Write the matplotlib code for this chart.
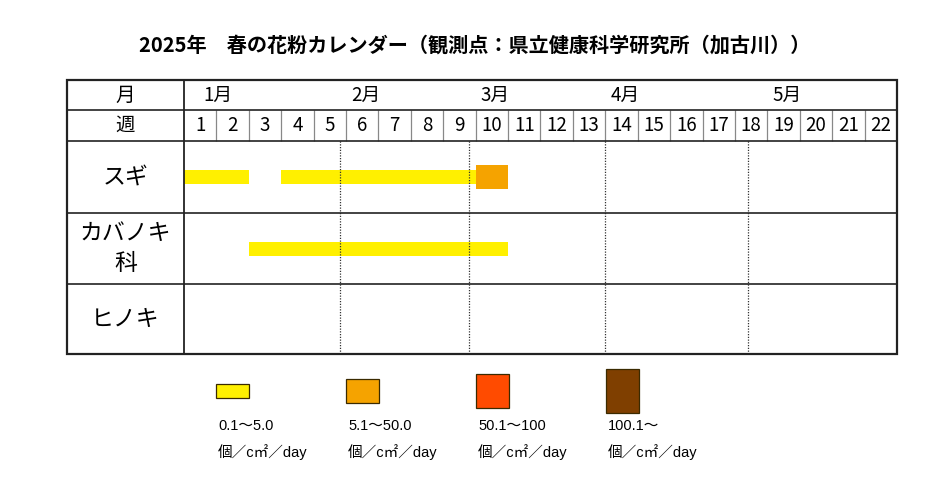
import matplotlib
matplotlib.use('Agg')
import matplotlib.pyplot as plt
from matplotlib.patches import Rectangle

plt.rcParams['font.family'] = ['Noto Sans CJK JP', 'DejaVu Sans']

TITLE = '2025年　春の花粉カレンダー（観測点：県立健康科学研究所（加古川））'

# header data
months = ['1月', '2月', '3月', '4月', '5月']
month_label_week = [1.05, 5.6, 9.6, 13.6, 18.6]   # where the month names sit (in weeks)
month_start_week = [4.8, 8.8, 13.0, 17.4]          # 2/1, 3/1, 4/1, 5/1
weeks = list(range(1, 23))

# pollen periods
species = ['スギ', 'カバノキ\n科', 'ヒノキ']
bar_species = [0, 0, 0, 1]
bar_first = [1, 4, 10, 3]
bar_last = [2, 9, 10, 10]
bar_level = [0, 0, 1, 0]

level_labels = ['0.1～5.0', '5.1～50.0', '50.1～100', '100.1～']
unit = '個／c㎡／day'

# styles
level_colors = ['#FFF000', '#F5A300', '#FF4B00', '#7F3F00']
level_heights = [14, 24, 34, 44]
row_bounds = [0, 30, 61, 133, 204, 274]   # px inside the table
label_col = -3.61                           # label column width in weeks

fig = plt.figure(figsize=(9.3, 4.97), dpi=100)
W, H = 930, 497

fig.text(475 / W, 1 - 45 / H, TITLE, ha='center', va='center',
         fontsize=14.5, fontweight='bold')

ax = fig.add_axes([67 / W, 1 - 354 / H, 830 / W, 274 / H])
ax.set_xlim(label_col, len(weeks))
ax.set_ylim(row_bounds[-1], row_bounds[0])
ax.axis('off')

# bars
for s, a, b, lv in zip(bar_species, bar_first, bar_last, bar_level):
    yc = (row_bounds[2 + s] + row_bounds[3 + s]) / 2
    ax.barh(yc, b - a + 1, left=a - 1, height=level_heights[lv],
            color=level_colors[lv], edgecolor='none', zorder=2)

# grid
ax.add_patch(Rectangle((label_col, 0), len(weeks) - label_col, row_bounds[-1],
                       fill=False, lw=1.6, ec='#222222', clip_on=False, zorder=5))
ax.vlines(0, 0, row_bounds[-1], color='#222222', lw=1.3, zorder=5)
ax.hlines(row_bounds[1:-1], label_col, len(weeks), color='#222222', lw=1.2, zorder=5)
ax.vlines(weeks[:-1], row_bounds[1], row_bounds[2], color='#888888', lw=0.9, zorder=4)
ax.vlines(month_start_week, row_bounds[2], row_bounds[-1], color='#333333',
          lw=0.9, linestyles=(0, (1, 1.2)), zorder=4)

# header text
xc = label_col / 2
yh1 = (row_bounds[0] + row_bounds[1]) / 2
yh2 = (row_bounds[1] + row_bounds[2]) / 2
ax.text(xc, yh1, '月', ha='center', va='center', fontsize=14)
ax.text(xc, yh2, '週', ha='center', va='center', fontsize=14)
for m, x in zip(months, month_label_week):
    ax.text(x, yh1, m, ha='center', va='center', fontsize=13.5)
for w in weeks:
    ax.text(w - 0.5, yh2, str(w), ha='center', va='center', fontsize=13.5)
for i, sp in enumerate(species):
    yc = (row_bounds[2 + i] + row_bounds[3 + i]) / 2
    ax.text(xc, yc, sp, ha='center', va='center', fontsize=16.5, linespacing=1.35)

# legend
lg = fig.add_axes([0, 0, 1, 1])
lg.set_xlim(0, W)
lg.set_ylim(H, 0)
lg.axis('off')
leg_font = ['Liberation Sans', 'Noto Sans CJK JP']
for i, (lab, c, h) in enumerate(zip(level_labels, level_colors, level_heights)):
    x0 = 216 + i * 130
    lg.add_patch(Rectangle((x0, 391 - h / 2), 33, h, fc=c, ec='#3a2a00', lw=0.9))
    lg.text(x0 + 2, 426, lab, ha='left', va='center', fontsize=10.5, family=leg_font)
    lg.text(x0 + 2, 452, unit, ha='left', va='center', fontsize=10.5, family=leg_font)

fig.savefig('out.png', dpi=100)
